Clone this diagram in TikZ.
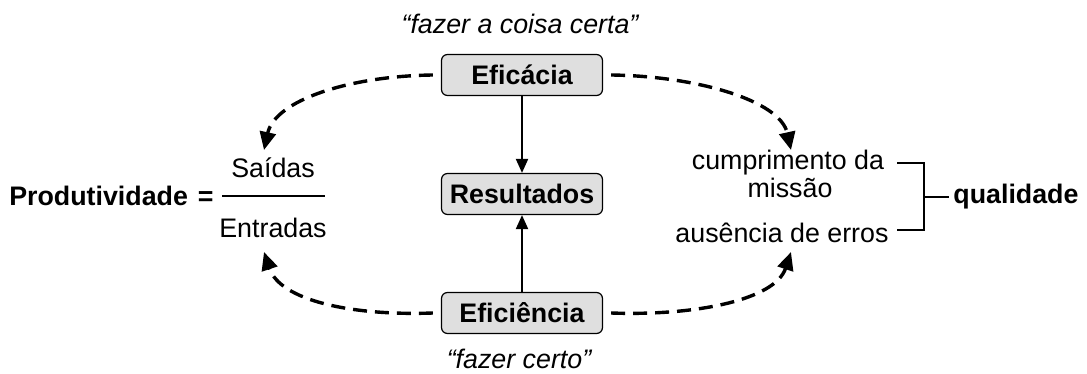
\documentclass[tikz,border=0pt]{standalone}
\usepackage{fontspec}
\setmainfont{Liberation Sans}
\usetikzlibrary{arrows.meta}
\begin{document}
\begin{tikzpicture}[x=0.5pt,y=-0.5pt,
  every node/.style={font=\fontsize{13.4}{15}\selectfont, inner sep=0pt},
  box/.style={draw=black, line width=0.6pt, fill=gray!25, rounded corners=3pt,
              minimum width=80.5pt, minimum height=20.5pt, font=\fontsize{13.4}{15}\selectfont\bfseries},
  dasharrow/.style={line width=1.7pt, dash pattern=on 7pt off 4pt,
              -{Triangle[length=9pt,width=8pt]}},
  solidarrow/.style={line width=1pt, -{Triangle[length=7pt,width=6pt]}},
  thinline/.style={line width=0.8pt}]
\useasboundingbox (0,0) rectangle (1087,374);

% central boxes
\node[box] (efa) at (522,75) {Eficácia};
\node[box] (res) at (522,194) {Resultados};
\node[box] (efi) at (522,313) {Eficiência};

\node[font=\fontsize{13.4}{15}\selectfont\itshape] (q1) at (520,24) {“fazer a coisa certa”};
\node[font=\fontsize{13.4}{15}\selectfont\itshape] (q2) at (519,359) {“fazer certo”};

\draw[solidarrow] (efa) -- (res);
\draw[solidarrow] (efi) -- (res);

% productivity
\node[anchor=east, font=\fontsize{13.4}{15}\selectfont\bfseries] (prod) at (214,196) {Produtividade\hspace{5pt}=};
\node (sai) at (273,168) {Saídas};
\node (ent) at (273,228) {Entradas};
\coordinate (fl) at (222,196);
\coordinate (fr) at (325,196);
\draw[thinline] (fl) -- (fr);

% quality
\node (cum) at (788,163) {cumprimento da};
\node (mis) at (790,188) {missão};
\node (aus) at (782,233) {ausência de erros};
\coordinate (b1) at (897,163);
\coordinate (b2) at (924,163);
\coordinate (b3) at (924,230);
\coordinate (b4) at (897,230);
\coordinate (bm) at (924,197);
\node[anchor=west, font=\fontsize{13.4}{15}\selectfont\bfseries] (qual) at (953,197) {qualidade};
\draw[thinline] (b1) -- (b2) -- (b3) -- (b4);
\draw[thinline] (bm) -- ([xshift=-2pt]qual.west);

% dashed arcs
\coordinate (tl) at (264,150);
\coordinate (tr) at (791,150);
\coordinate (bl) at (264,252);
\coordinate (br) at (791,252);
\draw[dasharrow] ([xshift=-4pt]efa.west) .. controls (350,76) and (275,100) .. (tl);
\draw[dasharrow] ([xshift=4pt]efa.east) .. controls (695,76) and (780,100) .. (tr);
\draw[dasharrow] ([xshift=-4pt]efi.west) .. controls (350,316) and (280,300) .. (bl);
\draw[dasharrow] ([xshift=4pt]efi.east) .. controls (695,316) and (775,300) .. (br);
\end{tikzpicture}
\end{document}
